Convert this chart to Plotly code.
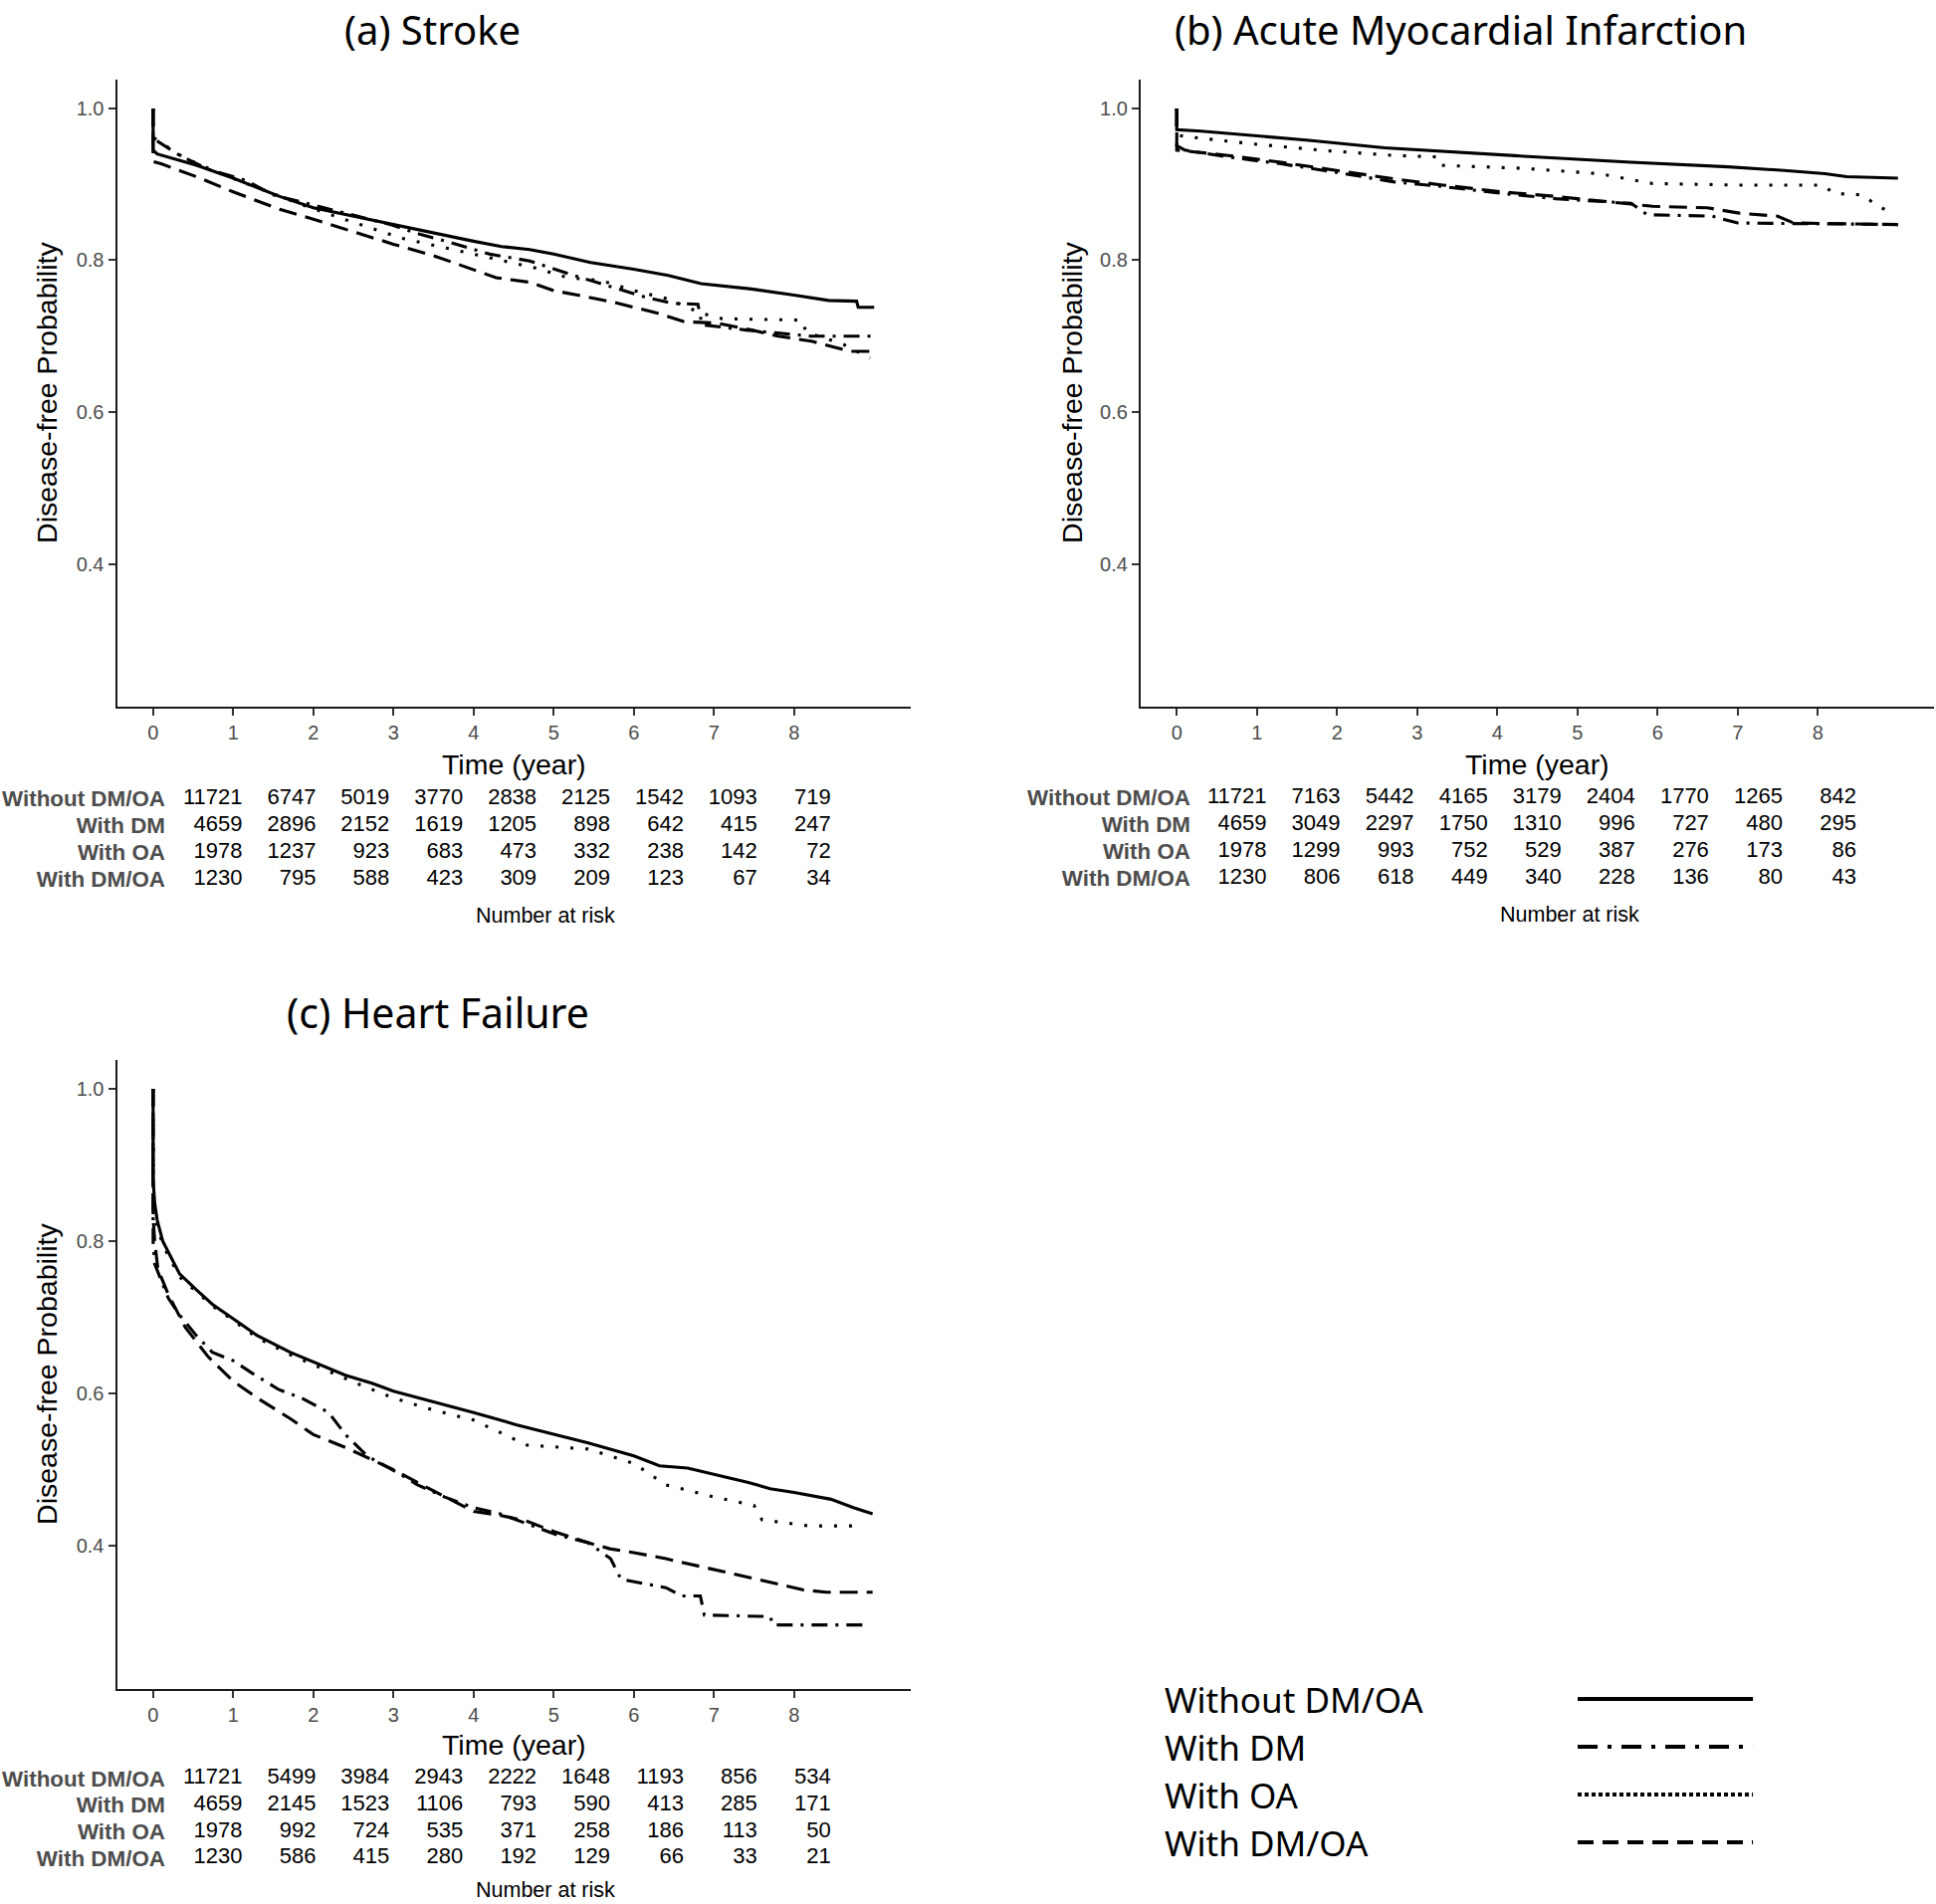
import plotly.graph_objects as go

W, H = 1945, 1913

GROUPS = ["Without DM/OA", "With DM", "With OA", "With DM/OA"]
RISK_TIMES = [0, 1, 2, 3, 4, 5, 6, 7, 8]

# ---------------- (a) Stroke ----------------
A_WITHOUT_T = [0, 0, 0.05, 0.25, 0.54, 1.0, 1.58, 2.0, 2.5, 3.0, 3.66, 4.0, 4.35, 4.7, 5.0, 5.46, 6.0, 6.43, 6.84, 7.0, 7.47, 8.0, 8.43, 8.78, 8.8, 9.0]
A_WITHOUT_S = [1.0, 0.945, 0.940, 0.934, 0.925, 0.908, 0.884, 0.869, 0.858, 0.847, 0.832, 0.825, 0.818, 0.814, 0.808, 0.797, 0.788, 0.780, 0.769, 0.767, 0.762, 0.754, 0.747, 0.746, 0.738, 0.738]
A_DM_T = [0, 0, 0.05, 0.3, 0.68, 1.16, 1.5, 2.0, 2.48, 2.96, 3.3, 3.66, 4.2, 4.7, 5.25, 5.73, 6.15, 6.5, 6.8, 6.85, 7.4, 7.8, 8.2, 9.0]
A_DM_S = [1.0, 0.96, 0.957, 0.94, 0.92, 0.905, 0.886, 0.873, 0.86, 0.847, 0.835, 0.825, 0.808, 0.799, 0.78, 0.764, 0.751, 0.743, 0.742, 0.715, 0.708, 0.704, 0.70, 0.70]
A_OA_T = [0, 0, 0.05, 0.4, 0.89, 1.44, 1.86, 2.27, 2.69, 3.1, 3.66, 4.2, 4.76, 5.18, 5.6, 6.0, 6.43, 6.84, 7.1, 8.1, 8.15, 8.6, 8.95]
A_OA_S = [1.0, 0.962, 0.958, 0.934, 0.912, 0.89, 0.873, 0.858, 0.843, 0.829, 0.816, 0.803, 0.79, 0.777, 0.773, 0.76, 0.749, 0.73, 0.723, 0.721, 0.705, 0.69, 0.671]
A_DMOA_T = [0, 0, 0.1, 0.54, 1.0, 1.58, 2.0, 2.55, 3.0, 3.5, 4.0, 4.28, 4.7, 5.0, 5.3, 5.73, 6.0, 6.3, 6.63, 7.05, 7.47, 7.8, 8.23, 8.5, 8.7, 9.0]
A_DMOA_S = [1.0, 0.93, 0.927, 0.91, 0.89, 0.867, 0.854, 0.836, 0.821, 0.806, 0.788, 0.777, 0.771, 0.76, 0.754, 0.745, 0.738, 0.73, 0.719, 0.717, 0.708, 0.70, 0.693, 0.686, 0.68, 0.68]

A_RISK_WITHOUT = [11721, 6747, 5019, 3770, 2838, 2125, 1542, 1093, 719]
A_RISK_DM = [4659, 2896, 2152, 1619, 1205, 898, 642, 415, 247]
A_RISK_OA = [1978, 1237, 923, 683, 473, 332, 238, 142, 72]
A_RISK_DMOA = [1230, 795, 588, 423, 309, 209, 123, 67, 34]

# ---------------- (b) Acute Myocardial Infarction ----------------
B_WITHOUT_T = [0, 0, 0.3, 0.97, 1.65, 2.59, 3.32, 4.33, 5.67, 6.88, 7.62, 8.09, 8.36, 9.0]
B_WITHOUT_S = [1.0, 0.972, 0.97, 0.964, 0.958, 0.948, 0.943, 0.937, 0.929, 0.923, 0.918, 0.914, 0.91, 0.908]
B_DM_T = [0, 0, 0.1, 0.64, 1.3, 1.98, 2.72, 3.32, 4.06, 4.73, 5.67, 5.87, 6.68, 7.0, 9.0]
B_DM_S = [1.0, 0.951, 0.945, 0.936, 0.927, 0.916, 0.903, 0.897, 0.888, 0.881, 0.875, 0.86, 0.858, 0.849, 0.847]
B_OA_T = [0, 0, 0.1, 0.97, 1.9, 2.72, 3.26, 3.3, 4.33, 5.27, 5.94, 7.0, 8.06, 8.2, 8.56, 8.7, 8.85]
B_OA_S = [1.0, 0.965, 0.963, 0.953, 0.944, 0.938, 0.936, 0.925, 0.921, 0.914, 0.901, 0.899, 0.899, 0.888, 0.886, 0.875, 0.866]
B_DMOA_T = [0, 0, 0.1, 0.64, 1.3, 1.98, 2.72, 3.32, 4.06, 4.73, 5.6, 5.94, 6.62, 7.02, 7.5, 7.7, 9.0]
B_DMOA_S = [1.0, 0.945, 0.944, 0.938, 0.929, 0.918, 0.907, 0.899, 0.89, 0.884, 0.875, 0.871, 0.869, 0.862, 0.858, 0.849, 0.847]

B_RISK_WITHOUT = [11721, 7163, 5442, 4165, 3179, 2404, 1770, 1265, 842]
B_RISK_DM = [4659, 3049, 2297, 1750, 1310, 996, 727, 480, 295]
B_RISK_OA = [1978, 1299, 993, 752, 529, 387, 276, 173, 86]
B_RISK_DMOA = [1230, 806, 618, 449, 340, 228, 136, 80, 43]

# ---------------- (c) Heart Failure ----------------
C_WITHOUT_T = [0, 0, 0.02, 0.05, 0.12, 0.33, 0.54, 0.74, 1.0, 1.3, 1.71, 2.0, 2.4, 2.74, 3.0, 3.5, 4.0, 4.53, 5.0, 5.43, 6.0, 6.32, 6.67, 7.0, 7.43, 7.7, 8.0, 8.46, 8.74, 8.98]
C_WITHOUT_S = [1.0, 0.88, 0.85, 0.828, 0.80, 0.757, 0.736, 0.717, 0.698, 0.676, 0.654, 0.641, 0.624, 0.613, 0.603, 0.589, 0.575, 0.559, 0.546, 0.535, 0.518, 0.505, 0.502, 0.494, 0.483, 0.475, 0.47, 0.461, 0.45, 0.442]
C_DM_T = [0, 0, 0.02, 0.09, 0.19, 0.33, 0.54, 0.74, 1.0, 1.23, 1.57, 1.85, 2.19, 2.4, 2.67, 3.0, 3.3, 3.64, 4.0, 4.33, 4.67, 5.02, 5.43, 5.71, 5.84, 6.4, 6.6, 6.83, 6.88, 7.7, 7.74, 8.88]
C_DM_S = [1.0, 0.80, 0.77, 0.752, 0.725, 0.703, 0.676, 0.654, 0.643, 0.627, 0.605, 0.594, 0.575, 0.546, 0.518, 0.499, 0.48, 0.464, 0.45, 0.442, 0.429, 0.415, 0.404, 0.383, 0.356, 0.345, 0.334, 0.334, 0.309, 0.307, 0.296, 0.296]
C_OA_T = [0, 0, 0.05, 0.12, 0.33, 0.54, 0.74, 1.0, 1.3, 1.71, 2.0, 2.5, 3.0, 3.5, 4.0, 4.67, 5.43, 6.0, 6.4, 7.0, 7.5, 7.6, 8.19, 8.84]
C_OA_S = [1.0, 0.84, 0.82, 0.795, 0.753, 0.733, 0.715, 0.696, 0.673, 0.651, 0.638, 0.615, 0.594, 0.578, 0.565, 0.532, 0.527, 0.508, 0.48, 0.464, 0.453, 0.434, 0.426, 0.426]
C_DMOA_T = [0, 0, 0.02, 0.06, 0.19, 0.4, 0.68, 1.0, 1.3, 1.71, 2.0, 2.4, 2.67, 3.0, 3.5, 4.0, 4.33, 4.67, 5.02, 5.43, 5.7, 6.0, 6.4, 6.74, 7.08, 7.43, 7.8, 8.12, 8.4, 8.98]
C_DMOA_S = [1.0, 0.83, 0.80, 0.763, 0.73, 0.687, 0.649, 0.616, 0.594, 0.567, 0.546, 0.529, 0.516, 0.5, 0.472, 0.445, 0.44, 0.432, 0.418, 0.404, 0.396, 0.391, 0.383, 0.375, 0.366, 0.358, 0.35, 0.342, 0.339, 0.339]

C_RISK_WITHOUT = [11721, 5499, 3984, 2943, 2222, 1648, 1193, 856, 534]
C_RISK_DM = [4659, 2145, 1523, 1106, 793, 590, 413, 285, 171]
C_RISK_OA = [1978, 992, 724, 535, 371, 258, 186, 113, 50]
C_RISK_DMOA = [1230, 586, 415, 280, 192, 129, 66, 33, 21]

TITLES = ["(a) Stroke", "(b) Acute Myocardial Infarction", "(c) Heart Failure"]
X_TICKS = [0, 1, 2, 3, 4, 5, 6, 7, 8]
Y_TICKS = [0.4, 0.6, 0.8, 1.0]

# ---------------- styling / layout ----------------
PLOT_DASH = ["solid", "16px,8px,3px,8px", "3px,12px", "18px,9px"]
LEGEND_DASH = ["solid", "20px,10px,4px,10px", "4px,3px", "16px,9px"]
TITLE_FONT = "Noto Sans"
AX_FONT = "Liberation Sans"
TICK_GREY = "#4D4D4D"


def xd(px):
    return px / W


def yd(py):
    return 1 - py / H


panels = [
    dict(curves=[(A_WITHOUT_T, A_WITHOUT_S), (A_DM_T, A_DM_S), (A_OA_T, A_OA_S), (A_DMOA_T, A_DMOA_S)],
         risk=[A_RISK_WITHOUT, A_RISK_DM, A_RISK_OA, A_RISK_DMOA],
         px=(117.6, 914.5), py=(80.3, 709.5),
         tab=dict(x0=167, x1=914.5, c0=243.5, c1=73.9, ytop=789, ybot=897),
         title_x=434.5, title_top=True, ytitle_x=47, xtitle_y=768, nar_y=920, nar_x=548),
    dict(curves=[(B_WITHOUT_T, B_WITHOUT_S), (B_DM_T, B_DM_S), (B_OA_T, B_OA_S), (B_DMOA_T, B_DMOA_S)],
         risk=[B_RISK_WITHOUT, B_RISK_DM, B_RISK_OA, B_RISK_DMOA],
         px=(1146, 1943), py=(80.3, 709.5),
         tab=dict(x0=1197, x1=1943, c0=1272.5, c1=74.06, ytop=788, ybot=896),
         title_x=1467, title_top=True, ytitle_x=1077, xtitle_y=768, nar_y=919, nar_x=1577),
    dict(curves=[(C_WITHOUT_T, C_WITHOUT_S), (C_DM_T, C_DM_S), (C_OA_T, C_OA_S), (C_DMOA_T, C_DMOA_S)],
         risk=[C_RISK_WITHOUT, C_RISK_DM, C_RISK_OA, C_RISK_DMOA],
         px=(117.6, 914.5), py=(1065.3, 1696.5),
         tab=dict(x0=167, x1=914.5, c0=243.5, c1=73.9, ytop=1773.5, ybot=1880),
         title_x=440, title_top=False, title_y=1017, ytitle_x=47, xtitle_y=1753, nar_y=None, nar_x=548),
]

fig = go.Figure()
layout = dict(width=W, height=H, margin=dict(l=0, r=0, t=0, b=0),
              paper_bgcolor="white", plot_bgcolor="white", showlegend=False)
annotations = []

for k, p in enumerate(panels):
    ia = k + 1
    it = k + 4
    xa = "x" if ia == 1 else f"x{ia}"
    ya = "y" if ia == 1 else f"y{ia}"
    for g, (t, s) in enumerate(p["curves"]):
        fig.add_trace(go.Scatter(x=t, y=s, mode="lines", xaxis=xa, yaxis=ya,
                                 line=dict(color="black", width=3.1, dash=PLOT_DASH[g]),
                                 hoverinfo="skip", name=GROUPS[g]))
    axis_common = dict(showgrid=False, zeroline=False, showline=True, linecolor="#1a1a1a",
                       linewidth=2.2, ticks="outside", ticklen=7, tickwidth=2, tickcolor="#333333",
                       tickfont=dict(family=AX_FONT, size=20, color=TICK_GREY))
    layout["xaxis" if ia == 1 else f"xaxis{ia}"] = dict(
        axis_common, domain=[xd(p["px"][0]), xd(p["px"][1])], range=[-0.45, 9.45],
        tickvals=X_TICKS, anchor=ya)
    layout["yaxis" if ia == 1 else f"yaxis{ia}"] = dict(
        axis_common, domain=[yd(p["py"][1]), yd(p["py"][0])], range=[0.2125, 1.0375],
        tickvals=Y_TICKS, tickformat=".1f", anchor=xa)

    # risk table
    tb = p["tab"]
    txa, tya = f"x{it}", f"y{it}"
    for g, row in enumerate(p["risk"]):
        fig.add_trace(go.Scatter(x=RISK_TIMES, y=[g] * len(RISK_TIMES), mode="text",
                                 text=[str(v) for v in row], textposition="middle left",
                                 textfont=dict(family=AX_FONT, size=22, color="black"),
                                 xaxis=txa, yaxis=tya, hoverinfo="skip"))
    layout[f"xaxis{it}"] = dict(domain=[xd(tb["x0"]), xd(tb["x1"])],
                                range=[(tb["x0"] - tb["c0"]) / tb["c1"], (tb["x1"] - tb["c0"]) / tb["c1"]],
                                showline=False, showgrid=False, zeroline=False, showticklabels=False,
                                ticks="", anchor=tya)
    layout[f"yaxis{it}"] = dict(domain=[yd(tb["ybot"]), yd(tb["ytop"])], range=[3.5, -0.5],
                                tickvals=[0, 1, 2, 3], ticktext=[f"<b>{g}</b>" for g in GROUPS],
                                tickfont=dict(family=AX_FONT, size=22.4, color=TICK_GREY),
                                showline=False, showgrid=False, zeroline=False, ticks="", anchor=txa)

    cx = (p["px"][0] + p["px"][1]) / 2
    cy = (p["py"][0] + p["py"][1]) / 2
    if p["title_top"]:
        annotations.append(dict(text=TITLES[k], x=xd(p["title_x"]), y=1.0, xref="paper", yref="paper",
                                showarrow=False, xanchor="center", yanchor="top",
                                font=dict(family=TITLE_FONT, size=40, color="black")))
    else:
        annotations.append(dict(text=TITLES[k], x=xd(p["title_x"]), y=yd(p["title_y"]), xref="paper",
                                yref="paper", showarrow=False, xanchor="center", yanchor="middle",
                                font=dict(family=TITLE_FONT, size=41, color="black")))
    annotations += [
        dict(text="Disease-free Probability", x=xd(p["ytitle_x"]), y=yd(cy), textangle=-90,
             xref="paper", yref="paper", showarrow=False, xanchor="center", yanchor="middle",
             font=dict(family=AX_FONT, size=28.5, color="black")),
        dict(text="Time (year)", x=xd(cx), y=yd(p["xtitle_y"]),
             xref="paper", yref="paper", showarrow=False, xanchor="center", yanchor="middle",
             font=dict(family=AX_FONT, size=28.5, color="black")),
    ]
    if p["nar_y"] is None:
        annotations.append(dict(text="Number at risk", x=xd(p["nar_x"]), y=0.0,
                                xref="paper", yref="paper", showarrow=False, xanchor="center",
                                yanchor="bottom", font=dict(family=AX_FONT, size=21.5, color="black")))
    else:
        annotations.append(dict(text="Number at risk", x=xd(p["nar_x"]), y=yd(p["nar_y"]),
                                xref="paper", yref="paper", showarrow=False, xanchor="center",
                                yanchor="middle", font=dict(family=AX_FONT, size=21.5, color="black")))

# ---------------- legend (bottom right) ----------------
LEG_X0, LEG_X1 = 1170, 1775
LEG_TOP, LEG_BOT = 1687.8, 1879.8
LEG_LINE_X = [0.686, 0.977]
for g, name in enumerate(GROUPS):
    fig.add_trace(go.Scatter(x=LEG_LINE_X, y=[g - 0.1, g - 0.1], mode="lines", xaxis="x7", yaxis="y7",
                             line=dict(color="black", width=4, dash=LEGEND_DASH[g]), hoverinfo="skip"))
    fig.add_trace(go.Scatter(x=[0.0], y=[g], mode="text", text=[name], textposition="middle right",
                             textfont=dict(family=TITLE_FONT, size=35, color="black"),
                             xaxis="x7", yaxis="y7", hoverinfo="skip"))
layout["xaxis7"] = dict(domain=[xd(LEG_X0), xd(LEG_X1)], range=[0, 1], visible=False, anchor="y7")
layout["yaxis7"] = dict(domain=[yd(LEG_BOT), yd(LEG_TOP)], range=[3.5, -0.5], visible=False, anchor="x7")

layout["annotations"] = annotations
fig.update_layout(**layout)
fig.write_html("out.html", config={"displayModeBar": False},
               post_script="document.body.style.margin='0px';")
